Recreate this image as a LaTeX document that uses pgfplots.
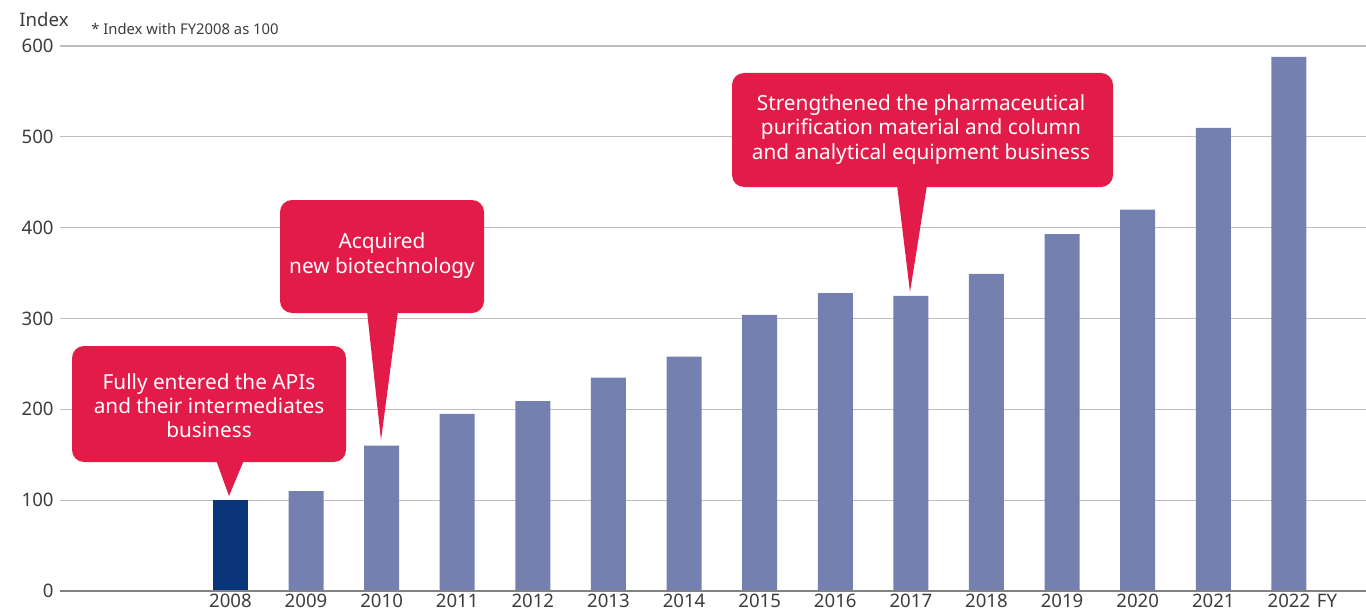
\documentclass[border=0pt]{standalone}
\usepackage{fontspec}
\setmainfont{Noto Sans}
\usepackage{pgfplots}
\pgfplotsset{compat=1.18}
\definecolor{barc}{RGB}{116,129,176}
\definecolor{darkc}{RGB}{10,53,123}
\definecolor{redc}{RGB}{226,27,73}
\definecolor{textc}{RGB}{60,60,60}
\definecolor{gridc}{RGB}{190,190,190}
\definecolor{axisc}{RGB}{130,130,130}
\begin{document}
\begin{tikzpicture}
\useasboundingbox (-30pt,-10.5pt) rectangle (653pt,295.5pt);
\begin{axis}[
  scale only axis, width=653pt, height=272.5pt,
  xmin=-2.254, xmax=15.02, ymin=0, ymax=600,
  axis line style={draw=none},
  ytick={0,100,...,600},
  ymajorgrids, grid style={gridc, line width=0.6pt},
  xtick={0,...,14},
  xticklabels={2008,2009,2010,2011,2012,2013,2014,2015,2016,2017,2018,2019,2020,2021,2022},
  major tick length=0pt,
  tick label style={font=\fontsize{9.3}{11}\selectfont, text=textc},
  /pgf/number format/assume math mode=true,
  yticklabel style={inner xsep=3pt},
  xticklabel style={inner ysep=1.5pt},
  clip=false,
]
\addplot[ybar, bar width=17.5pt, bar shift=0pt, fill=darkc, draw=none] coordinates {(0,100)};
\addplot[ybar, bar width=17.5pt, bar shift=0pt, fill=barc, draw=none] coordinates {
(1,110) (2,160) (3,195) (4,209) (5,235) (6,258) (7,304) (8,328) (9,325) (10,349) (11,393) (12,420) (13,510) (14,588)};
\draw[axisc, line width=0.8pt] (axis cs:-2.254,0) -- (axis cs:15.02,0);
\end{axis}
\begin{scope}[x=0.5pt,y=-0.5pt,shift={(-30pt,295.5pt)}]
  % callout 1
  \fill[redc, rounded corners=6pt] (72,346) rectangle (346,462);
  \fill[redc] (216,460) -- (229,496) -- (244,460) -- cycle;
  \node[white, align=center, font=\fontsize{10.4}{12}\selectfont] at (209,406) {Fully entered the APIs\\and their intermediates\\business};
  % callout 2
  \fill[redc, rounded corners=6pt] (280,200) rectangle (484,313);
  \fill[redc] (367,311) -- (381,440) -- (398,311) -- cycle;
  \node[white, align=center, font=\fontsize{10.4}{12.5}\selectfont] at (382,255.5) {Acquired\\new biotechnology};
  % callout 3
  \fill[redc, rounded corners=6pt] (732,73) rectangle (1113,187);
  \fill[redc] (897,185) -- (910,292) -- (927,185) -- cycle;
  \node[white, align=center, font=\fontsize{10.4}{12.2}\selectfont] at (921,129.5) {Strengthened the pharmaceutical\\purification material and column\\and analytical equipment business};
  % labels
  \node[textc, font=\fontsize{9.3}{11}\selectfont] at (44,20) {Index};
  \node[textc, anchor=west, inner sep=0pt, font=\fontsize{7.4}{9}\selectfont] at (91,29) {* Index with FY2008 as 100};
  \node[textc, font=\fontsize{9.3}{11}\selectfont] at (1327,601) {FY};
\end{scope}
\end{tikzpicture}
\end{document}
